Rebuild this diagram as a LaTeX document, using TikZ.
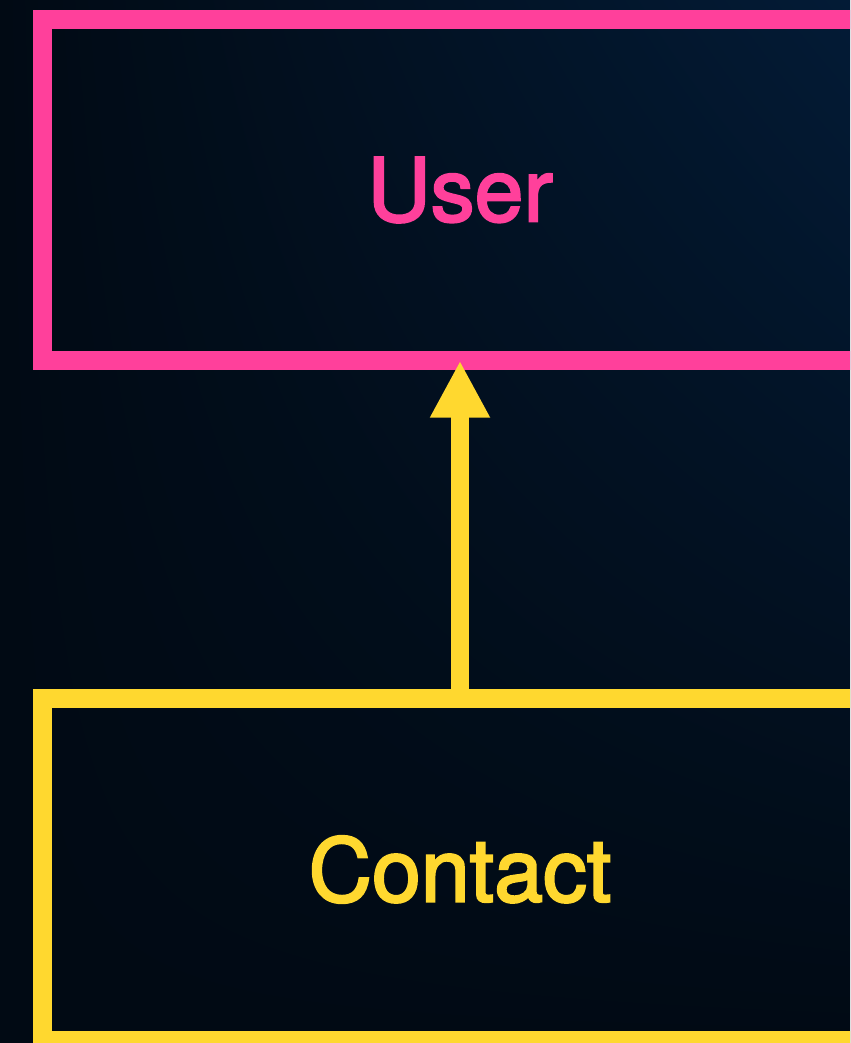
\documentclass[tikz,border=0pt]{standalone}
\usepackage{fontspec}
\setmainfont{TeX Gyre Heros}
\newfontfamily\boxfont[FakeBold=2.5]{TeX Gyre Heros}
\usetikzlibrary{arrows.meta,positioning,shadings}
\definecolor{bgdark}{HTML}{010A14}
\definecolor{bglight}{HTML}{031B36}
\definecolor{userpink}{HTML}{FF409B}
\definecolor{contactyellow}{HTML}{FFD82F}
\tikzset{
  classbox/.style={draw,line width=0.38cm,inner sep=0pt,outer sep=0pt,
    minimum width=16.7cm,minimum height=6.83cm,align=center,
    font=\boxfont\fontsize{50}{60}\selectfont},
  inherits/.style={-{Triangle[length=1.14cm,width=1.12cm]},line width=0.36cm,
    color=contactyellow}
}
\begin{document}
\begin{tikzpicture}[x=0.02cm,y=-0.02cm]
  \useasboundingbox (0,0) rectangle (850,1043);
  \clip (0,0) rectangle (850,1043);
  \shade[upper left=bgdark,upper right=bglight,lower left=bgdark,lower right=bgdark]
    (0,0) rectangle (850,1043);
  \node[classbox,draw=userpink,text=userpink] (user) at (460,190) {User};
  \node[classbox,draw=contactyellow,text=contactyellow] (contact) at (460,869.5) {Contact};
  \draw[inherits] (contact.north) -- (user.south);
\end{tikzpicture}
\end{document}
